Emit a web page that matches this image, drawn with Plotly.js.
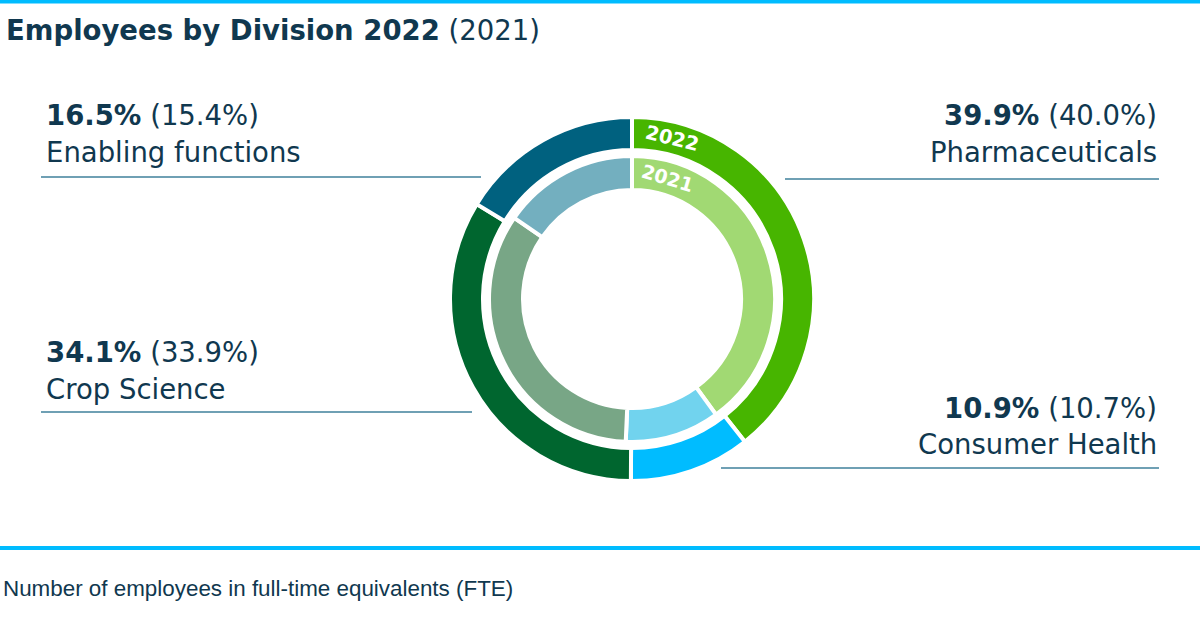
<!DOCTYPE html>
<html><head><meta charset="utf-8">
<script src="https://cdn.plot.ly/plotly-3.0.1.min.js"></script>
<style>html,body{margin:0;padding:0;background:#fff;overflow:hidden}</style>
</head><body>
<div id="chart" style="width:1200px;height:630px"></div>
<script>
// ---- data ----
const divisions = ['Pharmaceuticals', 'Consumer Health', 'Crop Science', 'Enabling functions'];
const share2022 = [39.9, 10.9, 34.1, 16.5];
const share2021 = [40.0, 10.7, 33.9, 15.4];
const ringYears = ['2022', '2021'];
const titleMain = 'Employees by Division 2022';
const titleSub = '(2021)';
const footnote = 'Number of employees in full-time equivalents (FTE)';

// ---- styles ----
const colors2022 = ['#47b500', '#00bcff', '#00662f', '#00617f'];
const colors2021 = ['#a1d973', '#71d3ee', '#78a686', '#73afbf'];
const navy = '#10384f';
const accent = '#00bcff';
const ruleColor = '#3f819b';
const FONT = 'DejaVu Sans, sans-serif';

const W = 1200, H = 630;
const px = x => x / W;
const py = y => 1 - y / H;

// ring geometry (pixels)
const cx = 632, cy = 299;
const outerR = 182, outerHole = 149;
const innerR = 143, innerHole = 109;
function dom(r) {
  return { x: [px(cx - r), px(cx + r)], y: [py(cy + r), py(cy - r)] };
}

const traces = [
  {
    type: 'pie', values: share2022, labels: divisions, sort: false,
    direction: 'clockwise', rotation: 0, hole: outerHole / outerR,
    domain: dom(outerR), textinfo: 'none', hoverinfo: 'none',
    marker: { colors: colors2022, line: { color: '#ffffff', width: 4 } },
    showlegend: false
  },
  {
    type: 'pie', values: share2021, labels: divisions, sort: false,
    direction: 'clockwise', rotation: 0, hole: innerHole / innerR,
    domain: dom(innerR), textinfo: 'none', hoverinfo: 'none',
    marker: { colors: colors2021, line: { color: '#ffffff', width: 4 } },
    showlegend: false
  }
];

// label placement (pixels) per division
const labelPos = {
  'Pharmaceuticals':   { side: 'right', x: 1159, b1: 125, b2: 162, ly: 179, lx0: 785, lx1: 1159 },
  'Consumer Health':   { side: 'right', x: 1159, b1: 418, b2: 454, ly: 468, lx0: 721, lx1: 1159 },
  'Crop Science':      { side: 'left',  x: 44,   b1: 362, b2: 399, ly: 412, lx0: 41,  lx1: 472 },
  'Enabling functions':{ side: 'left',  x: 44,   b1: 125, b2: 162, ly: 177, lx0: 41,  lx1: 481 }
};

const labelSize = 27.5;
const midOff = fs => 0.346 * fs; // baseline -> bbox middle for DejaVu

const annotations = [];
const shapes = [];

divisions.forEach((d, i) => {
  const p = labelPos[d];
  const t1 = '<b>' + share2022[i].toFixed(1) + '%</b> (' + share2021[i].toFixed(1) + '%)';
  [[t1, p.b1], [d, p.b2]].forEach(([txt, b]) => {
    annotations.push({
      xref: 'paper', yref: 'paper', x: px(p.x), y: py(b - midOff(labelSize)),
      xanchor: p.side, yanchor: 'middle', showarrow: false, text: txt,
      align: p.side, font: { family: FONT, size: labelSize, color: navy }
    });
  });
  shapes.push({
    type: 'line', xref: 'paper', yref: 'paper',
    x0: px(p.lx0), x1: px(p.lx1), y0: py(p.ly), y1: py(p.ly),
    line: { color: ruleColor, width: 1.3 }
  });
});

// title
annotations.push({
  xref: 'paper', yref: 'paper', x: px(4), y: py(40 - midOff(27.5)),
  xanchor: 'left', yanchor: 'middle', showarrow: false,
  text: '<b>' + titleMain + '</b> ' + titleSub,
  font: { family: FONT, size: 27.5, color: navy }
});

// footnote
annotations.push({
  xref: 'paper', yref: 'paper', x: px(1), y: py(596 - 0.3465 * 22.4),
  xanchor: 'left', yanchor: 'middle', showarrow: false, text: footnote,
  font: { family: 'Liberation Sans, Arial, sans-serif', size: 22.4, color: navy }
});

// year labels on the rings
const ringLabelPos = [
  { r: (outerR + outerHole) / 2, ang: 14, size: 19.5 },
  { r: (innerR + innerHole) / 2, ang: 16.5, size: 19 }
];
ringYears.forEach((yr, k) => {
  const g = ringLabelPos[k];
  const a = g.ang * Math.PI / 180;
  const x = cx + g.r * Math.sin(a), y = cy - g.r * Math.cos(a);
  annotations.push({
    xref: 'paper', yref: 'paper', x: px(x), y: py(y),
    xanchor: 'center', yanchor: 'middle', showarrow: false,
    text: '<b>' + yr + '</b>', textangle: g.ang,
    font: { family: FONT, size: g.size, color: '#ffffff' }
  });
});

// accent rules top & bottom
shapes.push({ type: 'rect', xref: 'paper', yref: 'paper', x0: 0, x1: 1, y0: py(3.5), y1: py(0),
  fillcolor: accent, line: { width: 0 } });
shapes.push({ type: 'rect', xref: 'paper', yref: 'paper', x0: 0, x1: 1, y0: py(550), y1: py(546),
  fillcolor: accent, line: { width: 0 } });

const layout = {
  width: W, height: H,
  margin: { l: 0, r: 0, t: 0, b: 0 },
  paper_bgcolor: '#ffffff', plot_bgcolor: '#ffffff',
  showlegend: false,
  annotations: annotations,
  shapes: shapes
};

Plotly.newPlot('chart', traces, layout, { staticPlot: true, displayModeBar: false });
</script>
</body></html>
